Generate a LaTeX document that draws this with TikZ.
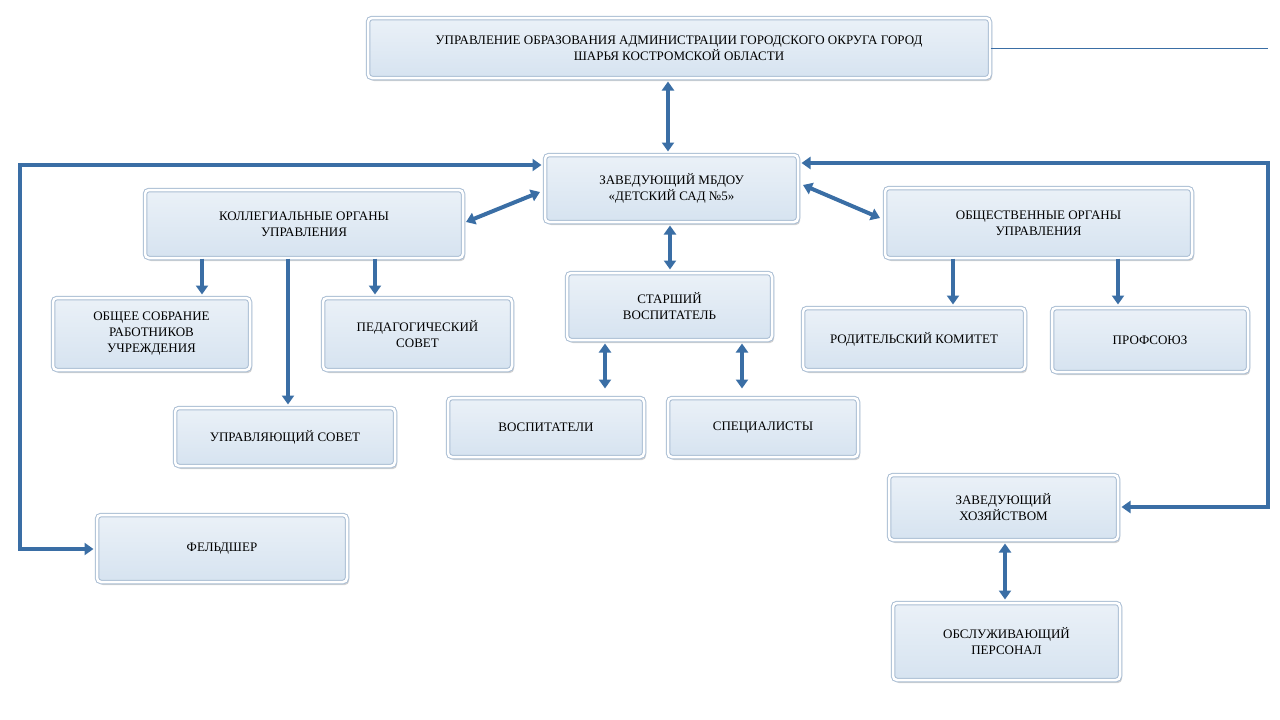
\documentclass[tikz,border=0pt]{standalone}
\usepackage{fontspec}
\setmainfont{Liberation Serif}
\usetikzlibrary{shadows,arrows.meta,calc}
\definecolor{ln}{HTML}{3A6EA5}
\definecolor{bxf}{HTML}{D6E3F0}
\definecolor{bxb}{HTML}{A9BDD3}
\tikzset{
 bx/.style={rounded corners=4pt, draw=bxb, line width=1pt, double=white, double distance=2.5pt,
   top color=bxf!50!white, bottom color=bxf, align=center, font=\fontsize{13}{16}\selectfont,
   drop shadow={opacity=0.35, shadow xshift=2pt, shadow yshift=-3pt}, inner sep=2pt},
 ar/.style={draw=ln, line width=4pt, -{Triangle[length=9pt,width=12pt]}, shorten >=3pt},
 dar/.style={draw=ln, line width=4pt, {Triangle[length=9pt,width=12pt]}-{Triangle[length=9pt,width=12pt]}, shorten >=3pt, shorten <=3pt},
 pl/.style={draw=ln, line width=4pt}
}
\newcommand{\bxn}[6]{\node[bx, minimum width={#4-#2}, minimum height={#5-#3}] (#1) at ({(#2+#4)/2},{(#3+#5)/2}) {#6};}
\begin{document}
\begin{tikzpicture}[x=1pt,y=-1pt]
\useasboundingbox (0,0) rectangle (1280,720);
\bxn{top}{368}{18}{990}{78}{УПРАВЛЕНИЕ ОБРАЗОВАНИЯ АДМИНИСТРАЦИИ ГОРОДСКОГО ОКРУГА ГОРОД\\ШАРЬЯ КОСТРОМСКОЙ ОБЛАСТИ}
\bxn{zav}{545}{155}{798}{222}{ЗАВЕДУЮЩИЙ МБДОУ\\«ДЕТСКИЙ САД №5»}
\bxn{koll}{145}{190}{463}{258}{КОЛЛЕГИАЛЬНЫЕ ОРГАНЫ\\УПРАВЛЕНИЯ}
\bxn{obsh}{885}{188}{1192}{258}{ОБЩЕСТВЕННЫЕ ОРГАНЫ\\УПРАВЛЕНИЯ}
\bxn{sobr}{53}{298}{250}{370}{ОБЩЕЕ СОБРАНИЕ\\РАБОТНИКОВ\\УЧРЕЖДЕНИЯ}
\bxn{ped}{323}{298}{512}{370}{ПЕДАГОГИЧЕСКИЙ\\СОВЕТ}
\bxn{upr}{175}{408}{395}{466}{УПРАВЛЯЮЩИЙ СОВЕТ}
\bxn{star}{567}{273}{772}{340}{СТАРШИЙ\\ВОСПИТАТЕЛЬ}
\bxn{vosp}{448}{398}{644}{457}{ВОСПИТАТЕЛИ}
\bxn{spec}{668}{398}{858}{457}{СПЕЦИАЛИСТЫ}
\bxn{rod}{803}{308}{1025}{370}{РОДИТЕЛЬСКИЙ КОМИТЕТ}
\bxn{prof}{1052}{308}{1248}{372}{ПРОФСОЮЗ}
\bxn{hoz}{889}{475}{1118}{540}{ЗАВЕДУЮЩИЙ\\ХОЗЯЙСТВОМ}
\bxn{obsl}{893}{603}{1120}{680}{ОБСЛУЖИВАЮЩИЙ\\ПЕРСОНАЛ}
\bxn{feld}{97}{515}{347}{582}{ФЕЛЬДШЕР}
% guide coordinates
\coordinate (tl) at (1268,48);
\coordinate (c668) at (668,0);
\coordinate (c670) at (670,0);
\coordinate (c202) at (202,0);
\coordinate (c375) at (375,0);
\coordinate (c288) at (288,0);
\coordinate (c605) at (605,0);
\coordinate (c742) at (742,0);
\coordinate (c953) at (953,0);
\coordinate (c1118) at (1118,0);
\coordinate (c1005) at (1005,0);
\coordinate (ly) at (0,165);
\coordinate (ry) at (0,163);
\coordinate (lx) at (20,549);
\coordinate (rx) at (1268,507);
\coordinate (kz1) at (466,222);
\coordinate (kz2) at (540,192);
\coordinate (zo1) at (803,185);
\coordinate (zo2) at (880,218);
\draw[ln, line width=0.6pt] (top.east|-tl) -- (tl);
\draw[dar] (top.south-|c668) -- (zav.north-|c668);
\draw[dar] (zav.south-|c670) -- (star.north-|c670);
\draw[draw=ln, line width=4pt, {Triangle[length=9pt,width=12pt]}-{Triangle[length=9pt,width=12pt]}] (kz1) -- (kz2);
\draw[draw=ln, line width=4pt, {Triangle[length=9pt,width=12pt]}-{Triangle[length=9pt,width=12pt]}] (zo1) -- (zo2);
\draw[ar] (koll.south-|c202) -- (sobr.north-|c202);
\draw[ar] (koll.south-|c375) -- (ped.north-|c375);
\draw[ar] (koll.south-|c288) -- (upr.north-|c288);
\draw[dar] (star.south-|c605) -- ($(vosp.north-|c605)+(0,-6)$);
\draw[dar] (star.south-|c742) -- ($(spec.north-|c742)+(0,-6)$);
\draw[ar] (obsh.south-|c953) -- (rod.north-|c953);
\draw[ar] (obsh.south-|c1118) -- (prof.north-|c1118);
\draw[dar] (hoz.south-|c1005) -- (obsl.north-|c1005);
\draw[dar] (zav.west|-ly) -- (lx|-ly) -- (lx) -- (feld.west|-lx);
\draw[dar] (zav.east|-ry) -- (rx|-ry) -- (rx) -- (hoz.east|-rx);
\end{tikzpicture}
\end{document}
